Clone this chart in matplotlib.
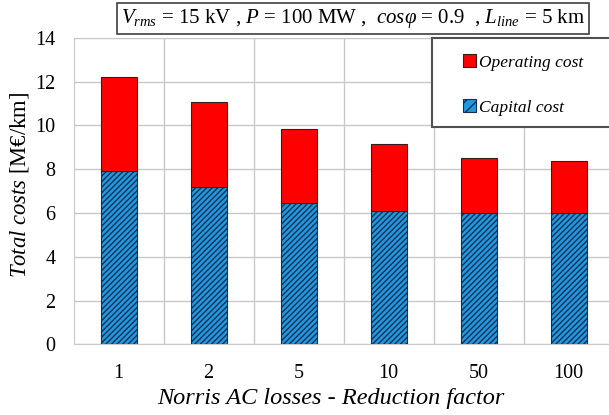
import numpy as np
import matplotlib
matplotlib.use("Agg")
import matplotlib.pyplot as plt
from matplotlib.patches import Rectangle, Patch

plt.rcParams["font.family"] = ["Liberation Serif", "DejaVu Serif"]
plt.rcParams["mathtext.fontset"] = "custom"
plt.rcParams["mathtext.rm"] = "Liberation Serif"
plt.rcParams["mathtext.it"] = "Liberation Serif:italic"
plt.rcParams["hatch.linewidth"] = 1.0

# data
factors = ["1", "2", "5", "10", "50", "100"]
capital_cost = [7.90, 7.17, 6.44, 6.10, 5.98, 5.98]
operating_cost = [4.30, 3.89, 3.42, 3.06, 2.51, 2.40]

W, H = 609, 415
fig = plt.figure(figsize=(W / 100, H / 100), dpi=100)
# plot area: x 73.5..613.5 px, y 37.9..344.3 px
ax = fig.add_axes([73.5 / W, 1 - 344.3 / H, 540 / W, (344.3 - 37.9) / H])

x = np.arange(len(factors))
width = 0.4
ax.bar(x, capital_cost, width, color="#1b9be0", edgecolor="#1a2b55",
       hatch="//////", linewidth=0.8, zorder=3)
ax.bar(x, operating_cost, width, bottom=capital_cost, color="#ff0000",
       edgecolor="#3a1a1a", linewidth=0.8, zorder=3)

ax.set_xlim(-0.5, len(factors) - 0.5)
ax.set_ylim(0, 14)
ax.set_yticks(np.arange(0, 15, 2))
ax.set_xticks(x)
ax.set_xticklabels(factors)
ax.set_xticks(x[:-1] + 0.5, minor=True)
ax.tick_params(axis="both", which="both", length=0, labelsize=14.5)
ax.tick_params(axis="y", pad=13)
ax.tick_params(axis="x", pad=14)
ax.grid(axis="y", color="#c8c8c8", linewidth=1.0, zorder=0)
ax.grid(axis="x", which="minor", color="#c8c8c8", linewidth=1.0, zorder=0)
for s in ax.spines.values():
    s.set_color("#c8c8c8")

ax.set_xlabel("Norris AC losses - Reduction factor", fontsize=17.5,
              fontstyle="italic", labelpad=4, x=0.477)
ax.set_ylabel(r"$\mathit{Total\ costs}$ [M€/km]", fontsize=16.3,
              labelpad=3, y=0.521)

# parameter box at the top
fig.text(353 / W, 1 - 18.7 / H,
         r"$V_{rms}$ = 15 kV , $P$ = 100 MW ,  $cos\varphi$ = 0.9  , $L_{line}$ = 5 km",
         ha="center", va="center", fontsize=15,
         bbox=dict(boxstyle="square,pad=0.2", fc="white", ec="#404040", lw=1.2))

# legend frame running off the right edge
fig.patches.append(Rectangle((432 / W, 1 - 126.7 / H), 200 / W, 89 / H,
                             transform=fig.transFigure, fc="white",
                             ec="#505050", lw=1.5, zorder=4))
handles = [Patch(facecolor="#ff0000", edgecolor="#3a1a1a", linewidth=0.8),
           Patch(facecolor="#1b9be0", edgecolor="#1a2b55", hatch="///",
                 linewidth=0.8)]
fig.legend(handles, ["Operating cost", "Capital cost"],
           loc="upper left", bbox_to_anchor=(451 / W, 1 - 42 / H),
           frameon=False, prop={"style": "italic", "size": 12.5},
           handlelength=0.75, handleheight=0.75, handletextpad=0.15,
           labelspacing=1.66, borderpad=0.2)

fig.savefig("out.png", dpi=100)
